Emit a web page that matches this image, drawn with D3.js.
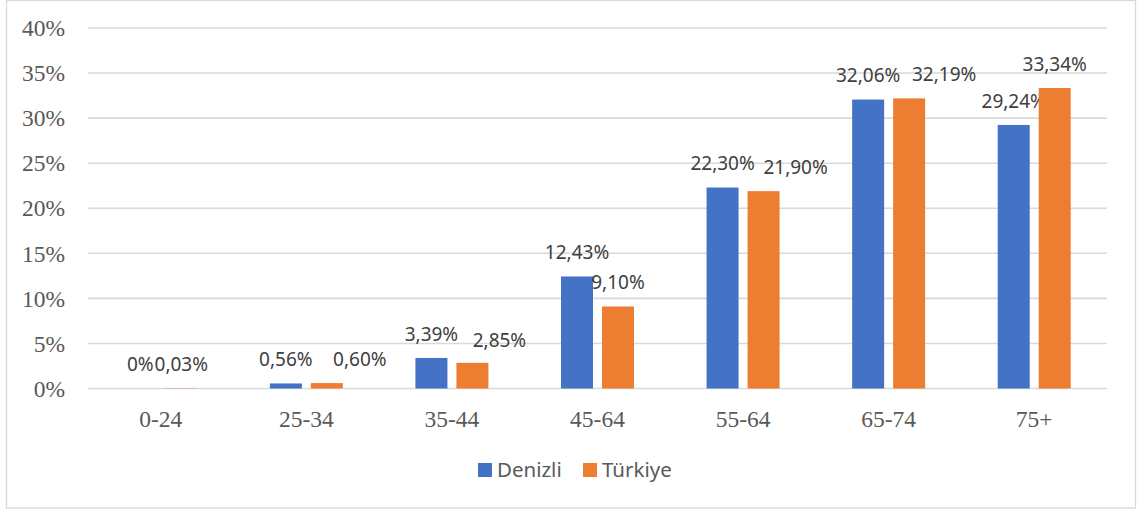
<!DOCTYPE html>
<html>
<head>
<meta charset="utf-8">
<script src="https://cdn.jsdelivr.net/npm/d3@7"></script>
<style>
  html, body { margin: 0; padding: 0; background: #fff; }
  svg { display: block; }
</style>
</head>
<body>
<svg id="chart" width="1147" height="510"></svg>
<script>
// ---- data ----
const categories = ["0-24", "25-34", "35-44", "45-64", "55-64", "65-74", "75+"];
const seriesNames = ["Denizli", "Türkiye"];
const denizli = [0, 0.56, 3.39, 12.43, 22.30, 32.06, 29.24];
const turkiye = [0.03, 0.60, 2.85, 9.10, 21.90, 32.19, 33.34];
const yTicks = [0, 5, 10, 15, 20, 25, 30, 35, 40];
const colors = ["#4472C4", "#ED7D31"];
// manual label nudges (pixels) as placed in the original chart
const turkiyeLabelDx = [0, 33, 27, 0, 32, 35, 0];
const turkiyeLabelDy = [0, 0, 2, 0, 0, 0, 0];

const seriesValues = [denizli, turkiye];

const svg = d3.select("#chart");

// outer border
svg.append("rect")
  .attr("x", 6.5).attr("y", 0.5)
  .attr("width", 1129).attr("height", 507.5)
  .attr("fill", "#fff").attr("stroke", "#d9d9d9").attr("stroke-width", 1.3);

const y = d3.scaleLinear().domain([0, 40]).range([388.5, 28]);
const x = d3.scaleBand().domain(categories).range([88, 1107]).paddingInner(0).paddingOuter(0);
const xs = d3.scaleBand().domain(seriesNames).range([-36.5, 36.5]).paddingInner(0.2195).paddingOuter(0);

// gridlines
svg.append("g").selectAll("line").data(yTicks).join("line")
  .attr("x1", 88).attr("x2", 1107)
  .attr("y1", d => y(d)).attr("y2", d => y(d))
  .attr("stroke", "#d9d9d9").attr("stroke-width", 1.6);

// y axis labels
const serif = "'Liberation Serif', 'Times New Roman', serif";
svg.append("g").selectAll("text").data(yTicks).join("text")
  .attr("x", 65).attr("y", d => y(d)).attr("dy", "0.35em")
  .attr("text-anchor", "end")
  .attr("font-family", serif).attr("font-size", 23.5).attr("fill", "#595959")
  .text(d => d + "%");

// x axis labels
svg.append("g").selectAll("text").data(categories).join("text")
  .attr("x", d => x(d) + x.bandwidth() / 2).attr("y", 419).attr("dy", "0.35em")
  .attr("text-anchor", "middle")
  .attr("font-family", serif).attr("font-size", 23.5).attr("fill", "#595959")
  .text(d => d);

const fmt = v => v === 0 ? "0%" : d3.format(".2f")(v).replace(".", ",") + "%";

const sans = "'Noto Sans', 'Open Sans', sans-serif";
seriesNames.forEach((name, si) => {
  const vals = seriesValues[si];
  const g = svg.append("g");
  g.selectAll("rect").data(categories).join("rect")
    .attr("x", (c) => x(c) + x.bandwidth() / 2 + xs(name))
    .attr("width", xs.bandwidth())
    .attr("y", (c, i) => y(vals[i]))
    .attr("height", (c, i) => y(0) - y(vals[i]))
    .attr("fill", colors[si]);
  g.selectAll("text").data(categories).join("text")
    .attr("x", (c, i) => x(c) + x.bandwidth() / 2 + xs(name) + xs.bandwidth() / 2 + (si === 1 ? turkiyeLabelDx[i] : 0))
    .attr("y", (c, i) => y(vals[i]) - 24 + (si === 1 ? turkiyeLabelDy[i] : 0))
    .attr("dy", "0.35em")
    .attr("text-anchor", "middle")
    .attr("font-family", sans).attr("font-size", 19).attr("fill", "#404040")
    .text((c, i) => fmt(vals[i]));
});

// legend
const legendX = [478, 583];
const lg = svg.append("g");
seriesNames.forEach((name, si) => {
  lg.append("rect")
    .attr("x", legendX[si]).attr("y", 463).attr("width", 14).attr("height", 14)
    .attr("fill", colors[si]);
  lg.append("text")
    .attr("x", legendX[si] + 19).attr("y", 470).attr("dy", "0.35em")
    .attr("font-family", sans).attr("font-size", 20.5).attr("fill", "#595959")
    .text(name);
});
</script>
</body>
</html>
